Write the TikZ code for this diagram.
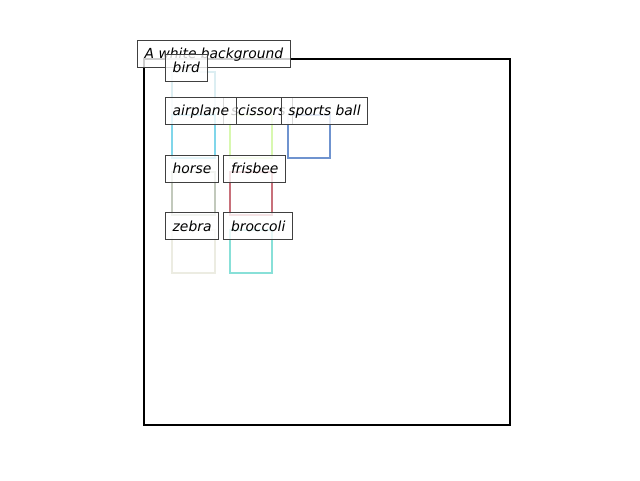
\documentclass[tikz,border=0pt]{standalone}
\usepackage{fontspec}
\setmainfont{DejaVu Sans}
\definecolor{cbird}{HTML}{DCEEF2}
\definecolor{cairplane}{HTML}{80D6EA}
\definecolor{cscissors}{HTML}{D8F8B0}
\definecolor{cball}{HTML}{6F93CF}
\definecolor{chorse}{HTML}{C2C9BC}
\definecolor{cfrisbee}{HTML}{C8707A}
\definecolor{czebra}{HTML}{ECECE2}
\definecolor{cbroccoli}{HTML}{88E0D8}
\definecolor{labedge}{HTML}{404040}
\tikzset{
  bbox/.style={line width=1.5pt},
  lab/.style={draw=labedge, line width=0.75pt, fill=white, fill opacity=0.8, text opacity=1,
    font=\fontsize{10.4}{12}\selectfont\itshape, anchor=west, inner xsep=5.4pt, inner ysep=0pt,
    minimum height=20.25pt, text height=8.8pt, text depth=1.4pt}
}
\begin{document}
\begin{tikzpicture}[x=0.75pt,y=-0.75pt]
\useasboundingbox (0,0) rectangle (640,480);
% axes frame
\draw[line width=1.5pt] (144,59) rectangle (510,425);
% boxes
\draw[bbox, cbird] (172,72) rectangle (215,115);
\draw[bbox, cairplane] (172,115) rectangle (215,158);
\draw[bbox, cscissors] (230,115) rectangle (272,158);
\draw[bbox, cball] (288,115) rectangle (330,158);
\draw[bbox, chorse] (172,172) rectangle (215,215);
\draw[bbox, cfrisbee] (230,172) rectangle (272,215);
\draw[bbox, czebra] (172,230) rectangle (215,273);
\draw[bbox, cbroccoli] (230,230) rectangle (272,273);
% labels
\node[lab] (title) at (137,54) {A white background};
\node[lab] (lbird) at (165,67.5) {bird};
\node[lab] (lscissors) at (223.3,110.5) {scissors};
\node[lab] (lairplane) at (165,110.5) {airplane};
\node[lab] (lball) at (280.7,110.5) {sports ball};
\node[lab] (lhorse) at (165,169) {horse};
\node[lab] (lfrisbee) at (223.3,169) {frisbee};
\node[lab] (lzebra) at (165,226.3) {zebra};
\node[lab] (lbroccoli) at (223.3,226.3) {broccoli};
\end{tikzpicture}
\end{document}
